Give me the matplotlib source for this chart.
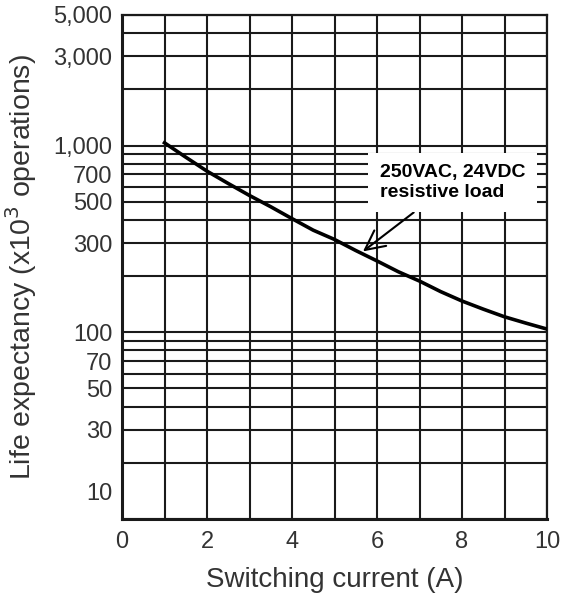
import numpy as np
import matplotlib
matplotlib.use("Agg")
import matplotlib.pyplot as plt
import matplotlib.transforms as mtransforms

plt.rcParams['font.family'] = ['Liberation Sans', 'DejaVu Sans']

# curve
current = [1, 1.5, 2, 2.5, 3, 3.5, 4, 4.5, 5, 5.5, 6, 6.5, 7, 7.5, 8, 8.5, 9, 9.5, 10]
life = [1034, 866, 729, 626, 540, 470, 406, 352, 314, 274, 241, 211, 188, 165, 147, 133, 121, 112, 104]

y_ticks = [10, 30, 50, 70, 100, 300, 500, 700, 1000, 3000, 5000]
y_ticklabels = ['10', '30', '50', '70', '100', '300', '500', '700', '1,000', '3,000', '5,000']
y_minor = [20, 40, 60, 80, 90, 200, 400, 600, 800, 900, 2000, 4000]
x_ticks = [0, 2, 4, 6, 8, 10]
x_minor = [1, 3, 5, 7, 9]

fig = plt.figure(figsize=(5.73, 5.99), dpi=100)
ax = fig.add_axes([122/573, 1 - 519/599, (547-122)/573, (519-15)/599])

ax.set_yscale('log')
ax.set_xlim(0, 10)
ax.set_ylim(10, 5000)

ax.set_xticks(x_ticks)
ax.set_xticks(x_minor, minor=True)
ax.set_yticks(y_ticks)
ax.set_yticklabels(y_ticklabels)
ax.set_yticks(y_minor, minor=True)
ax.yaxis.set_minor_formatter(matplotlib.ticker.NullFormatter())

ax.grid(which='both', color='#1a1a1a', linewidth=1.5)
ax.set_axisbelow(True)
ax.tick_params(which='both', length=0, labelsize=17, labelcolor='#333333')
ax.tick_params(axis='y', pad=7)
ax.tick_params(axis='x', pad=9)

for s in ax.spines.values():
    s.set_color('#1a1a1a')
    s.set_linewidth(1.6)
ax.spines['left'].set_linewidth(2.2)
ax.spines['bottom'].set_linewidth(2.2)

# the "10" label sits above the bottom edge in the original
for lbl in ax.get_yticklabels():
    if lbl.get_text() == '10':
        lbl.set_transform(lbl.get_transform() + mtransforms.ScaledTranslation(0, 27/100, fig.dpi_scale_trans))

ax.plot(current, life, color='black', linewidth=2.6, solid_joinstyle='round', zorder=3)

ax.annotate('250VAC, 24VDC\nresistive load', xy=(5.67, 271), xytext=(6.07, 634),
            fontsize=14, fontweight='bold', va='center', ha='left', linespacing=1.2,
            bbox=dict(boxstyle='square,pad=0.6', fc='white', ec='none'),
            arrowprops=dict(arrowstyle='->,head_length=1.0,head_width=0.5', color='black', lw=1.5,
                            shrinkA=0, shrinkB=0),
            zorder=4)

ax.set_xlabel('Switching current (A)', fontsize=20, color='#333333', labelpad=10)
ax.set_ylabel('Life expectancy (x10$^3$ operations)', fontsize=20.5, color='#333333', labelpad=10)

fig.savefig('out.png', dpi=100)
